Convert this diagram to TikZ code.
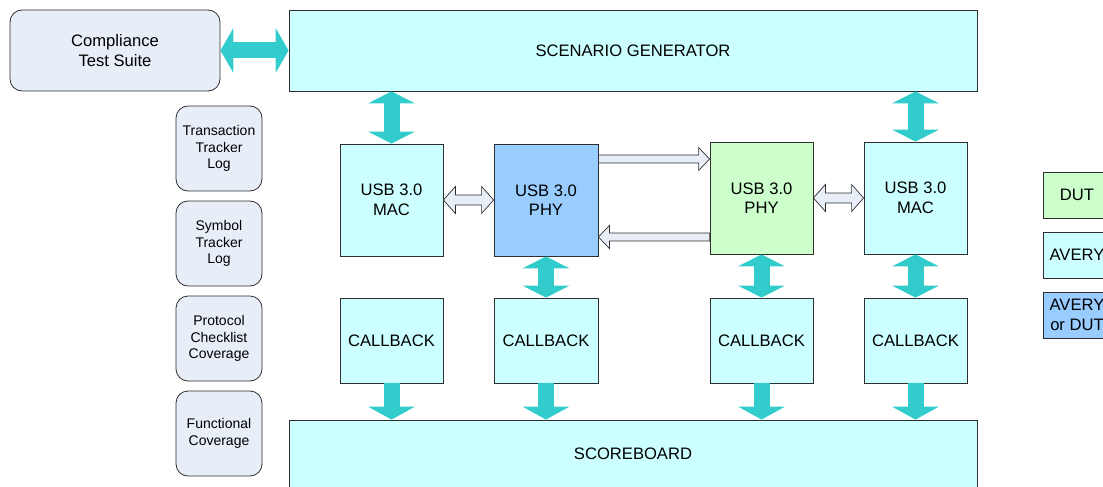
\documentclass[tikz,border=0pt]{standalone}
\usepackage{fontspec}
\setmainfont{Liberation Sans}
\usetikzlibrary{arrows.meta,calc,positioning}

\definecolor{averyfill}{HTML}{CCFFFF}
\definecolor{dutfill}{HTML}{CCFFCC}
\definecolor{eitherfill}{HTML}{99CCFF}
\definecolor{logfill}{HTML}{E8EEF8}
\definecolor{flowteal}{HTML}{33CCCC}
\definecolor{edgegray}{HTML}{2E2E2E}

\tikzset{
  blk/.style={draw=edgegray, line width=0.8pt, align=center, inner sep=0pt,
    font=\fontsize{16.6}{19.5}\selectfont},
  avery/.style={blk, fill=averyfill},
  dut/.style={blk, fill=dutfill},
  either/.style={blk, fill=eitherfill},
  logbox/.style={blk, fill=logfill, rounded corners=12pt,
    minimum width=86pt, minimum height=85pt,
    font=\fontsize{14}{16.7}\selectfont},
  % teal block arrows: one thick line with big tips
  bigtip/.style={Triangle[width=47pt,length=12pt,line width=0pt]},
  flowtwo/.style={draw=flowteal, line width=16pt, {Triangle[width=47pt,length=12pt,line width=0pt]}-{Triangle[width=47pt,length=12pt,line width=0pt]}},
  flowone/.style={draw=flowteal, line width=16pt, -{Triangle[width=47pt,length=13pt,line width=0pt]}},
  % outlined block arrows between the layers
  hollowtwo/.style={draw=edgegray, fill=logfill, line width=0.7pt, to path={
    let \p1=(\tikztostart), \p2=(\tikztotarget) in
    (\x1,\y1) -- (\x1+12pt,\y1+13.5pt) -- (\x1+12pt,\y1+5pt) -- (\x2-12pt,\y1+5pt)
    -- (\x2-12pt,\y1+13.5pt) -- (\x2,\y1) -- (\x2-12pt,\y1-13.5pt) -- (\x2-12pt,\y1-5pt)
    -- (\x1+12pt,\y1-5pt) -- (\x1+12pt,\y1-13.5pt) -- cycle}},
  hollowone/.style={draw=edgegray, fill=logfill, line width=0.7pt, to path={
    let \p1=(\tikztostart), \p2=(\tikztotarget), \n1={11*(\x2-\x1)/abs(\x2-\x1)} in
    (\x1,\y1+4pt) -- (\x2-\n1,\y1+4pt) -- (\x2-\n1,\y1+11.5pt) -- (\x2,\y1)
    -- (\x2-\n1,\y1-11.5pt) -- (\x2-\n1,\y1-4pt) -- (\x1,\y1-4pt) -- cycle}}
}

\begin{document}
\begin{tikzpicture}[x=1pt,y=-1pt]
  \useasboundingbox (0,0) rectangle (1103,487);
  \clip (0,0) rectangle (1103,487);

  % top row
  \node[blk, fill=logfill, rounded corners=12pt, minimum width=210pt, minimum height=81pt]
    (comp) at (115,50.5) {Compliance\\Test Suite};
  \node[avery, minimum width=688pt, minimum height=81pt] (scen) at (633,50.5) {SCENARIO GENERATOR};

  % logs and coverage
  \node[logbox] (txlog) at (219,148.5) {Transaction\\Tracker\\Log};
  \node[logbox] (symlog) at (219,243.5) {Symbol\\Tracker\\Log};
  \node[logbox] (protcov) at (219,338.5) {Protocol\\Checklist\\Coverage};
  \node[logbox] (funccov) at (219,433.5) {Functional\\Coverage};

  % layers
  \node[avery, minimum width=103pt, minimum height=112pt] (mac1) at (391.5,200) {USB 3.0\\MAC};
  \node[either, minimum width=104pt, minimum height=112pt] (phy1) at (546,200) {USB 3.0\\PHY};
  \node[dut, minimum width=103pt, minimum height=112pt] (phy2) at (761.5,198) {USB 3.0\\PHY};
  \node[avery, minimum width=103pt, minimum height=112pt] (mac2) at (915.5,198) {USB 3.0\\MAC};

  % callbacks
  \node[avery, minimum width=103pt, minimum height=85pt] (cb1) at (391.5,340.5) {CALLBACK};
  \node[avery, minimum width=104pt, minimum height=85pt] (cb2) at (546,340.5) {CALLBACK};
  \node[avery, minimum width=103pt, minimum height=85pt] (cb3) at (761.5,340.5) {CALLBACK};
  \node[avery, minimum width=103pt, minimum height=85pt] (cb4) at (915.5,340.5) {CALLBACK};

  \node[avery, minimum width=688pt, minimum height=68pt] (score) at (633,454) {SCOREBOARD};

  % legend
  \node[dut, minimum width=68pt, minimum height=46pt] (dutkey) at (1077,195) {DUT};
  \node[avery, minimum width=68pt, minimum height=46pt] (averykey) at (1077,255) {AVERY};
  \node[either, minimum width=68pt, minimum height=46pt] (eitherkey) at (1077,315) {AVERY\\or DUT};

  % teal arrows
  \draw[flowtwo, {Triangle[width=45pt,length=13pt,line width=0pt]}-{Triangle[width=45pt,length=13pt,line width=0pt]}]
    (comp.east) -- (scen.west);
  \draw[flowtwo] (mac1.north |- scen.south) -- (mac1.north);
  \draw[flowtwo] (mac2.north |- scen.south) -- (mac2.north);
  \draw[flowtwo] (phy1.south) -- (cb2.north);
  \draw[flowtwo] (phy2.south) -- (cb3.north);
  \draw[flowtwo] (mac2.south) -- (cb4.north);
  \foreach \cb in {cb1,cb2,cb3,cb4}
    \draw[flowone] (\cb.south) -- (\cb.south |- score.north);

  % MAC <-> PHY and PHY <-> PHY
  \coordinate (txrow) at (650,159);
  \coordinate (rxrow) at (650,237);
  \draw[hollowtwo] (mac1.east) to (phy1.west);
  \draw[hollowtwo] (phy2.east) to (mac2.west);
  \draw[hollowone] (phy1.east |- txrow) to (phy2.west |- txrow);
  \draw[hollowone] (phy2.west |- rxrow) to (phy1.east |- rxrow);
\end{tikzpicture}
\end{document}
